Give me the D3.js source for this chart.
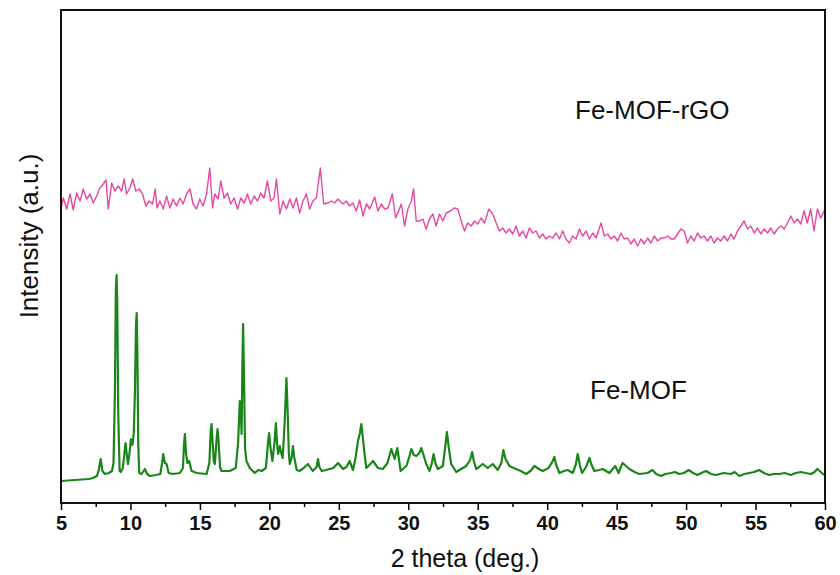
<!DOCTYPE html>
<html lang="en">
<head>
<meta charset="utf-8">
<title>XRD Fe-MOF</title>
<style>
	body { margin: 0; background: #fff; }
	svg text { font-family: Arial, "Liberation Sans", sans-serif; }
</style>
</head>
<body>
<div id="my_dataviz"></div>
<script src="https://cdn.jsdelivr.net/npm/d3@7"></script>
<script>

// tick labels on the bottom axis
const majorTicks = [5, 10, 15, 20, 25, 30, 35, 40, 45, 50, 55, 60];
const minorTicks = [7.5, 12.5, 17.5, 22.5, 27.5, 32.5, 37.5, 42.5, 47.5, 52.5, 57.5];

// Fe-MOF-rGO (pink)
const rgoTheta = [5.0, 5.17, 5.41, 5.65, 5.88, 6.13, 6.37, 6.60, 6.85, 7.09, 7.32, 7.57, 7.80, 8.04, 8.24, 8.40, 8.65, 8.88, 9.12, 9.36,
	9.55, 9.72, 9.96, 10.16, 10.39, 10.63, 10.87, 11.11, 11.35, 11.59, 11.78, 11.92, 12.12, 12.36, 12.60, 12.84, 13.07, 13.32, 13.56, 13.79,
	14.04, 14.28, 14.51, 14.76, 14.99, 15.23, 15.48, 15.71, 15.91, 16.07, 16.31, 16.50, 16.74, 16.99, 17.22, 17.46, 17.71, 17.94, 18.18, 18.42,
	18.66, 18.90, 19.14, 19.38, 19.62, 19.86, 20.10, 20.34, 20.51, 20.75, 20.98, 21.23, 21.47, 21.70, 21.95, 22.18, 22.42, 22.67, 22.90, 23.14,
	23.38, 23.67, 23.91, 24.22, 24.46, 24.70, 24.94, 25.30, 25.54, 25.78, 26.02, 26.26, 26.50, 26.74, 26.99, 27.22, 27.58, 27.82, 28.06, 28.30,
	28.54, 28.85, 29.09, 29.25, 29.50, 29.73, 29.97, 30.22, 30.38, 30.57, 30.81, 31.05, 31.29, 31.53, 31.77, 32.01, 32.25, 32.49, 32.73, 33.02,
	33.33, 33.57, 33.81, 34.05, 34.28, 34.53, 34.77, 35.00, 35.25, 35.49, 35.80, 36.08, 36.33, 36.56, 36.80, 37.04, 37.28, 37.52, 37.76, 38.00,
	38.24, 38.48, 38.72, 38.96, 39.20, 39.44, 39.68, 39.92, 40.16, 40.40, 40.64, 40.88, 41.12, 41.36, 41.60, 41.83, 42.08, 42.32, 42.56, 42.80,
	43.04, 43.28, 43.52, 43.88, 44.11, 44.35, 44.60, 44.83, 45.07, 45.31, 45.55, 45.79, 46.03, 46.27, 46.51, 46.75, 46.99, 47.23, 47.47, 47.71,
	47.95, 48.19, 48.43, 48.67, 48.91, 49.15, 49.38, 49.63, 49.87, 50.10, 50.35, 50.58, 50.82, 51.06, 51.30, 51.54, 51.78, 52.02, 52.26, 52.50,
	52.74, 52.98, 53.22, 53.46, 53.70, 53.94, 54.18, 54.42, 54.66, 54.90, 55.14, 55.38, 55.62, 55.86, 56.10, 56.34, 56.58, 56.82, 57.06, 57.30,
	57.54, 57.78, 58.02, 58.26, 58.49, 58.73, 58.97, 59.21, 59.45, 59.69, 59.93];
const rgoIntensity = [295, 305, 294, 309, 293, 310, 302, 314, 304, 309, 300, 307, 315, 319, 323, 294, 320, 312, 317, 312,
	324, 309, 315, 324, 312, 314, 309, 297, 302, 299, 314, 295, 302, 294, 307, 295, 304, 297, 305, 299,
	309, 314, 299, 294, 304, 297, 309, 335, 295, 309, 304, 322, 305, 310, 299, 305, 294, 305, 300, 309,
	299, 307, 302, 310, 305, 322, 302, 305, 324, 289, 302, 294, 304, 295, 305, 290, 302, 309, 294, 302,
	305, 335, 299, 300, 302, 300, 304, 299, 302, 297, 300, 292, 303, 287, 299, 294, 306, 292, 299, 294,
	295, 309, 285, 290, 299, 277, 294, 302, 314, 282, 282, 284, 274, 284, 289, 277, 289, 282, 290, 292,
	295, 294, 282, 272, 280, 277, 282, 279, 285, 280, 294, 289, 280, 272, 275, 270, 274, 269, 277, 267,
	272, 265, 275, 270, 272, 265, 269, 264, 267, 265, 270, 264, 272, 264, 260, 267, 264, 274, 267, 272,
	264, 270, 265, 280, 267, 269, 264, 267, 262, 270, 264, 265, 259, 264, 257, 264, 259, 265, 260, 267,
	262, 265, 265, 267, 264, 264, 269, 274, 272, 260, 267, 262, 270, 265, 267, 262, 267, 260, 265, 262,
	267, 262, 269, 264, 272, 277, 282, 274, 277, 270, 275, 269, 274, 270, 275, 269, 274, 277, 274, 280,
	287, 280, 284, 279, 292, 280, 294, 272, 294, 285, 292];

// Fe-MOF (green)
const mofTheta = [5.0, 6.0, 7.0, 7.30, 7.59, 7.72, 7.86, 7.98, 8.16, 8.45, 8.67, 8.78, 8.88, 8.95, 9.00, 9.05, 9.12, 9.22, 9.30, 9.45,
	9.58, 9.65, 9.72, 9.82, 9.92, 10.03, 10.10, 10.16, 10.24, 10.32, 10.40, 10.45, 10.50, 10.56, 10.63, 10.80, 11.04, 11.20, 11.40, 11.83,
	12.15, 12.28, 12.36, 12.48, 12.60, 12.75, 13.05, 13.56, 13.78, 13.86, 13.92, 14.00, 14.10, 14.23, 14.40, 14.76, 15.48, 15.68, 15.78, 15.84,
	15.92, 16.00, 16.08, 16.18, 16.27, 16.35, 16.45, 16.56, 17.15, 17.58, 17.75, 17.87, 17.95, 18.00, 18.06, 18.11, 18.17, 18.25, 18.35, 18.59,
	18.95, 19.20, 19.45, 19.75, 19.90, 19.98, 20.08, 20.22, 20.38, 20.47, 20.55, 20.63, 20.75, 20.85, 20.96, 21.10, 21.23, 21.32, 21.40, 21.47,
	21.60, 21.70, 21.80, 21.97, 22.18, 22.47, 22.78, 23.12, 23.40, 23.50, 23.60, 23.77, 24.10, 24.35, 24.60, 24.95, 25.30, 25.55, 25.78, 26.02,
	26.20, 26.38, 26.52, 26.62, 26.74, 26.86, 26.98, 27.20, 27.46, 27.82, 28.17, 28.50, 28.78, 29.02, 29.21, 29.45, 29.86, 30.05, 30.22, 30.40,
	30.58, 30.80, 30.94, 31.10, 31.29, 31.53, 31.70, 31.82, 31.95, 32.13, 32.49, 32.65, 32.78, 32.92, 33.09, 33.45, 33.80, 34.17, 34.45, 34.60,
	34.72, 34.89, 35.10, 35.36, 35.72, 36.08, 36.44, 36.70, 36.85, 37.00, 37.28, 37.76, 38.10, 38.48, 38.80, 39.08, 39.40, 39.68, 40.10, 40.40,
	40.52, 40.65, 40.88, 41.20, 41.48, 41.84, 42.05, 42.20, 42.35, 42.51, 42.80, 43.04, 43.20, 43.40, 43.75, 44.00, 44.48, 44.90, 45.14, 45.30,
	45.43, 45.60, 45.91, 46.30, 46.63, 47.22, 47.58, 47.85, 48.19, 48.50, 48.91, 49.20, 49.50, 49.85, 50.18, 50.50, 50.83, 51.10, 51.43, 51.80,
	52.15, 52.70, 53.23, 53.50, 53.83, 54.20, 54.55, 54.90, 55.26, 55.60, 55.98, 56.30, 56.70, 57.10, 57.54, 57.90, 58.26, 58.60, 59.00, 59.25,
	59.45, 59.70, 59.93];
const mofIntensity = [22, 23, 24, 25, 27, 33, 44, 32, 29, 30, 32, 40, 110, 215, 228, 200, 90, 32, 31, 35,
	52, 60, 50, 39, 48, 64, 58, 59, 70, 110, 178, 190, 150, 60, 30, 29, 34, 29, 27, 28,
	29, 40, 49, 40, 39, 30, 29, 30, 35, 60, 69, 50, 40, 42, 32, 30, 29, 40, 72, 79,
	60, 42, 39, 60, 74, 60, 36, 32, 32, 35, 60, 102, 90, 69, 140, 179, 130, 55, 42, 35,
	30, 33, 32, 35, 60, 70, 55, 42, 62, 80, 60, 49, 57, 50, 45, 80, 125, 90, 50, 39,
	45, 57, 45, 33, 32, 35, 39, 32, 36, 44, 36, 32, 33, 34, 35, 40, 34, 36, 42, 33,
	45, 62, 70, 79, 64, 48, 35, 38, 42, 35, 34, 40, 54, 44, 55, 32, 37, 45, 54, 48,
	47, 50, 55, 48, 39, 32, 40, 49, 40, 34, 37, 55, 71, 55, 39, 31, 34, 37, 43, 51,
	42, 34, 36, 39, 35, 39, 33, 40, 53, 44, 37, 34, 32, 29, 32, 37, 34, 32, 35, 42,
	46, 38, 30, 32, 33, 30, 38, 49, 38, 30, 36, 45, 38, 32, 33, 34, 30, 37, 30, 36,
	40, 38, 34, 31, 29, 30, 33, 29, 27, 29, 30, 31, 29, 30, 33, 30, 28, 30, 32, 29,
	28, 30, 29, 31, 27, 29, 30, 31, 33, 30, 28, 29, 29, 30, 28, 30, 31, 30, 29, 31,
	34, 31, 28];

// set the dimensions and margins of the graph
var margin = { top: 10, right: 15, bottom: 72, left: 61 },
	width = 840 - margin.left - margin.right,
	height = 575 - margin.top - margin.bottom;

var svg = d3.select("#my_dataviz")
	.append("svg")
	.attr("width", width + margin.left + margin.right)
	.attr("height", height + margin.top + margin.bottom)
	.append("g")
	.attr("transform", "translate(" + margin.left + "," + margin.top + ")");

const x = d3.scaleLinear()
	.domain([5, 60])
	.range([0, width]);

const y = d3.scaleLinear()
	.domain([0, height])
	.range([height, 0]);

// minor ticks first, then major ticks with labels
svg.append("g")
	.attr("transform", "translate(0," + height + ")")
	.call(d3.axisBottom(x).tickValues(minorTicks).tickSize(4).tickFormat(""))
	.call(g => g.select(".domain").remove())
	.call(g => g.selectAll("line").attr("stroke", "#000").attr("stroke-width", 1.5));

svg.append("g")
	.attr("transform", "translate(0," + height + ")")
	.call(d3.axisBottom(x).tickValues(majorTicks).tickSize(7).tickPadding(6).tickFormat(d3.format("d")))
	.call(g => g.select(".domain").remove())
	.call(g => g.selectAll("line").attr("stroke", "#000").attr("stroke-width", 1.5))
	.call(g => g.selectAll("text")
		.attr("fill", "#111")
		.style("font-size", "20px")
		.style("font-weight", "bold")
		.style("font-family", "Arial, 'Liberation Sans', sans-serif"));

// lines
const line = d3.line()
	.x(function (d) { return x(d[0]) })
	.y(function (d) { return y(d[1]) });

svg.append("path")
	.datum(d3.zip(rgoTheta, rgoIntensity))
	.attr("fill", "none")
	.attr("stroke", "#e8479f")
	.attr("stroke-width", 1.4)
	.attr("stroke-linejoin", "round")
	.attr("d", line);

svg.append("path")
	.datum(d3.zip(mofTheta, mofIntensity))
	.attr("fill", "none")
	.attr("stroke", "#1a861a")
	.attr("stroke-width", 2.2)
	.attr("stroke-linejoin", "round")
	.attr("d", line);

// frame
svg.append("rect")
	.attr("x", 0)
	.attr("y", 0)
	.attr("width", width)
	.attr("height", height)
	.attr("fill", "none")
	.attr("stroke", "#111")
	.attr("stroke-width", 2);

// series labels
svg.append("text")
	.attr("x", 514)
	.attr("y", 109)
	.style("font-size", "26px")
	.attr("fill", "#111")
	.text("Fe-MOF-rGO");

svg.append("text")
	.attr("x", 529)
	.attr("y", 389)
	.style("font-size", "26px")
	.attr("fill", "#111")
	.text("Fe-MOF");

// axis titles
svg.append("text")
	.attr("x", 404)
	.attr("y", height + 64)
	.attr("text-anchor", "middle")
	.style("font-size", "25px")
	.attr("fill", "#111")
	.text("2 theta (deg.)");

svg.append("text")
	.attr("transform", "translate(-23," + 226 + ") rotate(-90)")
	.attr("text-anchor", "middle")
	.style("font-size", "26px")
	.attr("fill", "#111")
	.text("Intensity (a.u.)");

</script>
</body>
</html>
